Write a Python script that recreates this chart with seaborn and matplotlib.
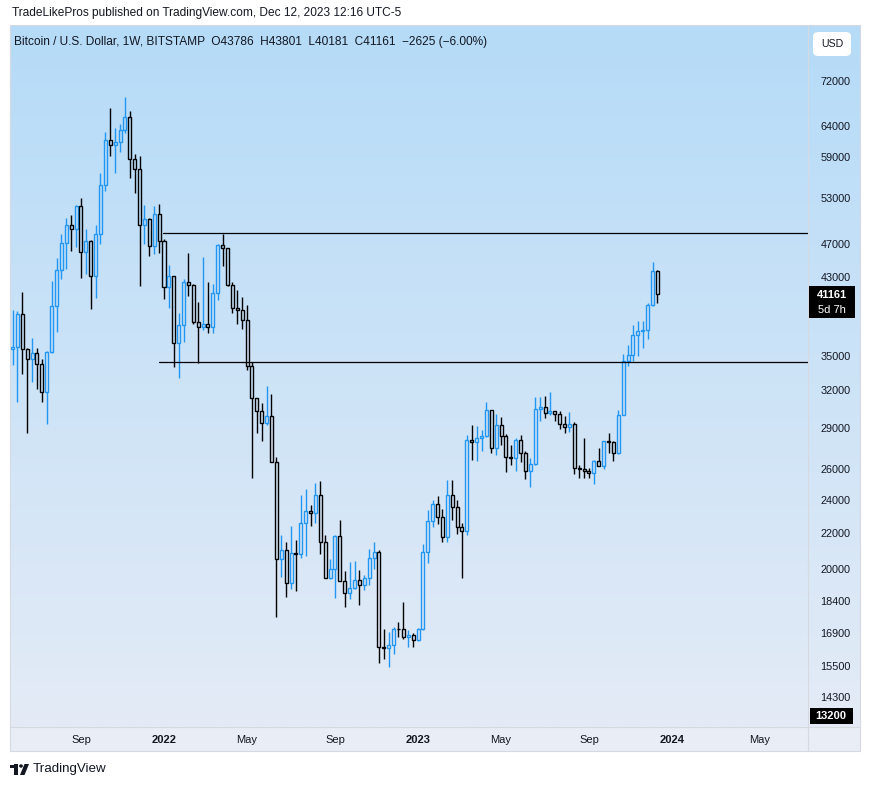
import numpy as np
import pandas as pd
import matplotlib
matplotlib.use('Agg')
import matplotlib.pyplot as plt
import matplotlib.dates as mdates
from matplotlib.colors import LinearSegmentedColormap
from matplotlib.patches import Rectangle, FancyBboxPatch, Circle, Polygon
from matplotlib.ticker import NullLocator
import seaborn as sns

sns.set_theme(style='white')
plt.rcParams['font.family'] = ['Liberation Sans', 'DejaVu Sans']

W, H = 870, 787

# ------------------ weekly BTC/USD candles (BITSTAMP, 1W) ------------------
first_week = '2021-05-31'
opens = [35600, 35800, 39100, 35600, 34700, 35280, 34250, 31800, 35400, 39850,
         43850, 47050, 49300, 48850, 51800, 45950, 47300, 43150, 48250, 54800,
         61650, 60900, 61300, 63300, 65500, 58700, 57200, 49400, 50100, 46650,
         50800, 47300, 41900, 43150, 36250, 37950, 42450, 42200, 38250, 37750,
         38100, 37800, 41300, 46850, 46400, 42150, 39700, 39450, 38450, 34050,
         31300, 30300, 29350, 29900, 26500, 20550, 21030, 19300, 20850, 20800,
         22570, 23300, 23200, 24300, 21470, 19540, 20000, 21800, 19400, 18780,
         19030, 19450, 19200, 19550, 20600, 20900, 16300, 16250, 16400, 17090,
         17080, 16730, 16830, 16600, 17100, 20900, 22690, 23730, 22940, 21760,
         24300, 23550, 22340, 22100, 28050, 27950, 28200, 28350, 30350, 27500,
         29200, 28380, 26830, 26750, 28070, 27120, 25870, 26350, 30440, 30600,
         30130, 30250, 30070, 29280, 29050, 29300, 26100, 26000, 25850, 25750,
         26550, 26250, 28000, 27950, 27100, 29970, 34530, 35050, 36960, 37400,
         37450, 39970, 43786]
highs = [39480, 39380, 41350, 35750, 36650, 35700, 34700, 35450, 42600, 45300,
         48150, 50200, 50600, 52000, 52900, 48800, 47400, 49300, 56550, 62950,
         67000, 63700, 64250, 69000, 66500, 59500, 59100, 52000, 50200, 51900,
         52100, 47600, 44400, 43200, 39200, 42800, 45850, 42300, 40300, 45350,
         42500, 42300, 47000, 48200, 46500, 42450, 41600, 40800, 40000, 34400,
         31300, 30950, 32350, 31700, 26850, 21850, 21500, 22400, 21600, 24300,
         24680, 23650, 25100, 25200, 21850, 20530, 21850, 22750, 19900, 20380,
         20450, 19950, 19700, 21080, 21470, 21050, 17090, 16960, 17200, 17400,
         18350, 17050, 16900, 17150, 21350, 23370, 23950, 24250, 23450, 25270,
         25250, 24000, 22600, 28450, 29200, 29150, 28800, 31000, 30400, 30050,
         29800, 28500, 27700, 28200, 28450, 27300, 26800, 31430, 31400, 31500,
         31800, 30300, 30250, 29900, 30200, 29450, 26300, 28200, 26050, 26600,
         27480, 28000, 28600, 28000, 30400, 35200, 36000, 37950, 38400, 38400,
         40200, 44770, 43801]
lows = [34200, 31000, 33350, 28600, 32700, 32100, 31050, 29300, 35300, 37300,
        42850, 43950, 46150, 46600, 42900, 43400, 39600, 40750, 46900, 53900,
        59150, 56500, 59750, 62800, 55800, 53600, 42000, 46900, 45500, 45700,
        45900, 40650, 39700, 34000, 33000, 36300, 40950, 38100, 34350, 37450,
        37150, 37150, 40500, 44300, 42100, 39200, 38050, 37550, 33700, 25400,
        28600, 28000, 29200, 26500, 17650, 19600, 18600, 19000, 18900, 20600,
        20700, 22400, 22600, 20800, 19540, 19500, 18550, 19400, 18100, 18500,
        19000, 18200, 18950, 19200, 20000, 15630, 15790, 15480, 16000, 16750,
        16650, 16300, 16300, 16550, 17050, 20350, 22350, 22500, 21450, 21450,
        22750, 21950, 19550, 21900, 26650, 26550, 27250, 28300, 27100, 27000,
        27700, 25800, 26300, 25870, 26500, 25340, 24800, 26300, 29500, 29700,
        29950, 29500, 28900, 28600, 28650, 25700, 25400, 25400, 25400, 25000,
        26250, 26000, 27100, 26550, 27050, 29950, 34100, 34500, 35000, 35700,
        36600, 39900, 40181]
closes = [35800, 39100, 35600, 34700, 35280, 34250, 31800, 35400, 39850, 43850,
          47050, 49300, 48850, 51800, 45950, 47300, 43150, 48250, 54800, 61650,
          60900, 61300, 63300, 65500, 58700, 57200, 49400, 50100, 46650, 50800,
          47300, 41900, 43150, 36250, 37950, 42450, 42200, 38250, 37750, 38100,
          37800, 41300, 46850, 46400, 42150, 39700, 39450, 38450, 34050, 31300,
          30300, 29350, 29900, 26500, 20550, 21030, 19300, 20850, 20800, 22570,
          23300, 23200, 24300, 21470, 19540, 20000, 21800, 19400, 18780, 19030,
          19450, 19200, 19550, 20600, 20900, 16300, 16250, 16400, 17090, 17080,
          16730, 16830, 16600, 17100, 20900, 22690, 23730, 22940, 21760, 24300,
          23550, 22340, 22100, 28050, 27950, 28200, 28350, 30350, 27500, 29200,
          28380, 26830, 26750, 28070, 27120, 25870, 26350, 30440, 30600, 30130,
          30250, 30070, 29280, 29050, 29300, 26100, 26000, 25850, 25750, 26550,
          26250, 28000, 27950, 27100, 29970, 34530, 35050, 36960, 37400, 37450,
          39970, 43786, 41161]

# horizontal levels drawn on the chart
levels = [48300, 34400]
level_starts = ['2022-01-01', '2021-12-27']
level_end = '2024-08-01'

# 39000 sits under the last-price badge in the original, so it is left out
price_ticks = [72000, 64000, 59000, 53000, 47000, 43000, 35000, 32000,
               29000, 26000, 24000, 22000, 20000, 18400, 16900, 15500, 14300]
time_ticks = ['2021-09-06', '2022-01-03', '2022-05-02', '2022-09-05', '2023-01-02',
              '2023-05-01', '2023-09-04', '2024-01-01', '2024-05-06']
time_labels = ['Sep', '2022', 'May', 'Sep', '2023', 'May', 'Sep', '2024', 'May']

# ------------------ build the frame ------------------
df = pd.DataFrame({'Open': opens, 'High': highs, 'Low': lows, 'Close': closes})
df['Date'] = pd.date_range(first_week, periods=len(df), freq='W-MON')
df['x'] = mdates.date2num(df['Date'])
df['Top'] = df[['Open', 'Close']].max(axis=1)
df['Bottom'] = df[['Open', 'Close']].min(axis=1)
df['Color'] = np.where(df['Close'] >= df['Open'], '#2196f3', '#000000')

BG_TOP = '#b5dbf8'
BG_BOTTOM = '#e4ebf6'
TXT = '#131722'
BORDER = '#d6d9e0'


def fx(x):
    return x / W


def fy(y):
    return 1 - y / H


fig = plt.figure(figsize=(W / 100, H / 100), dpi=100)
fig.patch.set_facecolor('white')

# gradient background behind pane + price scale
bg = fig.add_axes([fx(10), fy(727), (860 - 10) / W, (727 - 25) / H])
cmap = LinearSegmentedColormap.from_list('tvbg', [BG_TOP, BG_BOTTOM])
bg.imshow(np.linspace(0, 1, 256).reshape(-1, 1), aspect='auto', cmap=cmap,
          extent=[0, 1, 0, 1])
bg.axis('off')

# time scale band
fig.add_artist(Rectangle((fx(10), fy(751)), (860 - 10) / W, 24 / H,
                         transform=fig.transFigure, facecolor='#e9edf5',
                         edgecolor='none', zorder=0))

# ------------------ main price pane ------------------
ax = fig.add_axes([fx(10), fy(727), (808 - 10) / W, (727 - 25) / H])
ax.set_facecolor('none')
ax.set_zorder(2)
ax.set_yscale('log')

# wicks
ax.vlines(df['x'], df['Top'], df['High'], colors=df['Color'], linewidth=1.0, zorder=3)
ax.vlines(df['x'], df['Low'], df['Bottom'], colors=df['Color'], linewidth=1.0, zorder=3)
# hollow bodies
ax.bar(df['x'], df['Top'] - df['Bottom'], bottom=df['Bottom'], width=4.3,
       facecolor='none', edgecolor=df['Color'], linewidth=1.0, zorder=4)

# support / resistance lines
lv = pd.DataFrame({
    'x': mdates.date2num(pd.to_datetime(level_starts + [level_end] * len(levels))),
    'price': levels + levels,
    'level': list(range(len(levels))) * 2,
})
sns.lineplot(data=lv, x='x', y='price', units='level', estimator=None,
             color='black', linewidth=0.9, ax=ax, legend=False, zorder=5)

x0 = mdates.date2num(pd.Timestamp('2022-01-03'))
px_per_day = 4.885 / 7
ax.set_xlim(x0 + (10 - 164) / px_per_day, x0 + (808 - 164) / px_per_day)
ax.set_ylim(13218, 83400)

for s in ax.spines.values():
    s.set_visible(False)
ax.set_xlabel('')
ax.set_ylabel('')

ax.yaxis.tick_right()
ax.set_yticks(price_ticks)
ax.set_yticklabels([str(v) for v in price_ticks])
ax.yaxis.set_minor_locator(NullLocator())
ax.tick_params(axis='y', length=0, pad=9, labelsize=7.8, labelcolor=TXT)

ax.set_xticks(mdates.date2num(pd.to_datetime(time_ticks)))
ax.set_xticklabels(time_labels)
ax.xaxis.set_minor_locator(NullLocator())
ax.tick_params(axis='x', length=0, pad=6, labelsize=8, labelcolor=TXT)
for lab in ax.get_xticklabels():
    if lab.get_text().isdigit():
        lab.set_fontweight('bold')
ax.grid(False)

# ------------------ frame lines ------------------
fig.add_artist(Rectangle((fx(10), fy(751)), (860 - 10) / W, (751 - 25) / H,
                         transform=fig.transFigure, facecolor='none',
                         edgecolor=BORDER, linewidth=0.8, zorder=6))
fig.add_artist(plt.Line2D([fx(808), fx(808)], [fy(25), fy(751)],
                          transform=fig.transFigure, color=BORDER, linewidth=0.8, zorder=6))
fig.add_artist(plt.Line2D([fx(10), fx(860)], [fy(727), fy(727)],
                          transform=fig.transFigure, color=BORDER, linewidth=0.8, zorder=6))

# ------------------ price labels ------------------
fig.add_artist(Rectangle((fx(809), fy(318)), 46 / W, 32 / H, transform=fig.transFigure,
                         facecolor='black', edgecolor='none', zorder=10))
fig.text(fx(832), fy(295), '41161', color='white', fontsize=8, fontweight='bold',
         ha='center', va='center', zorder=11)
fig.text(fx(832), fy(310), '5d 7h', color='white', fontsize=8,
         ha='center', va='center', zorder=11)

fig.add_artist(Rectangle((fx(810), fy(724)), 43 / W, 16 / H, transform=fig.transFigure,
                         facecolor='black', edgecolor='none', zorder=10))
fig.text(fx(831), fy(716), '13200', color='white', fontsize=8, fontweight='bold',
         ha='center', va='center', zorder=11)

# USD button
fig.add_artist(FancyBboxPatch((fx(813), fy(56)), 38 / W, 24 / H,
                              boxstyle='round,pad=0,rounding_size=0.006',
                              transform=fig.transFigure, facecolor='white',
                              edgecolor='none', zorder=10))
fig.text(fx(832), fy(44), 'USD', color=TXT, fontsize=7.6, ha='center', va='center', zorder=11)

# ------------------ header texts ------------------
fig.text(fx(12), fy(13), 'TradeLikePros published on TradingView.com, Dec 12, 2023 12:16 UTC-5',
         color=TXT, fontsize=8.6, ha='left', va='center')
fig.text(fx(14), fy(42),
         'Bitcoin / U.S. Dollar, 1W, BITSTAMP  O43786  H43801  L40181  C41161  \u22122625 (\u22126.00%)',
         color=TXT, fontsize=8.6, ha='left', va='center', zorder=11)

# ------------------ TradingView logo ------------------
fig.add_artist(Rectangle((fx(10), fy(768)), 8.5 / W, 3.5 / H, transform=fig.transFigure,
                         facecolor=TXT, edgecolor='none'))
fig.add_artist(Rectangle((fx(14.5), fy(775)), 4 / W, 11 / H, transform=fig.transFigure,
                         facecolor=TXT, edgecolor='none'))
fig.add_artist(Circle((fx(21), fy(766)), 1.9 / W, transform=fig.transFigure,
                      facecolor=TXT, edgecolor='none'))
fig.add_artist(Polygon([(fx(24.5), fy(764)), (fx(29), fy(764)), (fx(24.5), fy(775)),
                        (fx(20), fy(775))], closed=True, transform=fig.transFigure,
                       facecolor=TXT, edgecolor='none'))
fig.text(fx(33), fy(769), 'TradingView', color=TXT, fontsize=9.6, ha='left', va='center')

fig.savefig('out.png', dpi=100, facecolor='white')
